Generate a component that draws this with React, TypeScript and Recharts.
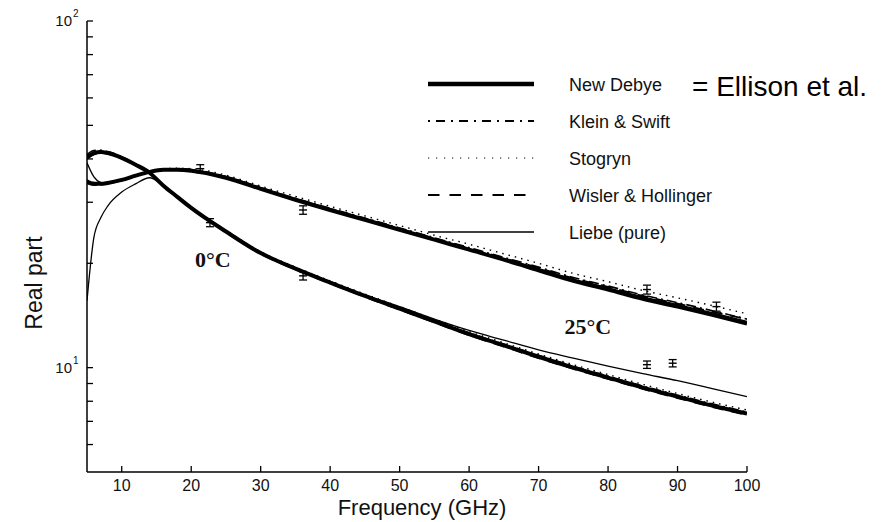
import {
  ComposedChart,
  Line,
  XAxis,
  YAxis,
  Scatter,
  ErrorBar,
  Legend,
  ReferenceDot,
} from "recharts";

const FONT = '"Liberation Sans", Arial, Helvetica, sans-serif';
const SERIF = '"Liberation Serif", "Times New Roman", serif';

// frequency grid (GHz)
const freqs = [5, 6, 7, 8, 10, 12, 14, 16, 18, 20, 25, 30, 35, 40, 45, 50, 55, 60, 65, 70, 75, 80, 85, 90, 95, 100];

// 0°C family
const newDebye0 = [40.5, 41.6, 41.9, 41.6, 40.3, 38.5, 36.5, 33.5, 31.1, 28.9, 24.7, 21.4, 19.3, 17.6, 16.1, 14.8, 13.6, 12.5, 11.6, 10.75, 10.0, 9.36, 8.76, 8.25, 7.77, 7.37];
const kleinSwift0 = [41.2, 42.3, 42.4, 42.0, 40.6, 38.7, 36.6, 33.6, 31.2, 29.0, 24.8, 21.5, 19.4, 17.7, 16.2, 14.9, 13.7, 12.6, 11.7, 10.85, 10.1, 9.45, 8.85, 8.33, 7.86, 7.45];
const stogryn0 = [40.9, 42.0, 42.2, 41.8, 40.4, 38.6, 36.6, 33.6, 31.2, 29.0, 24.9, 21.6, 19.5, 17.8, 16.3, 15.0, 13.8, 12.7, 11.8, 10.95, 10.2, 9.55, 8.95, 8.42, 7.95, 7.55];
const wisler0 = [40.0, 41.2, 41.6, 41.4, 40.2, 38.4, 36.4, 33.4, 31.0, 28.8, 24.6, 21.3, 19.2, 17.5, 16.0, 14.7, 13.5, 12.4, 11.5, 10.65, 9.92, 9.28, 8.68, 8.17, 7.7, 7.3];
const liebe0 = [15.6, 23.8, 27.1, 29.3, 32.1, 33.9, 35.3, 33.5, 31.1, 29.0, 24.8, 21.5, 19.4, 17.7, 16.2, 15.0, 13.8, 12.8, 12.0, 11.25, 10.65, 10.1, 9.61, 9.17, 8.7, 8.25];

// 25°C family
const newDebye25 = [34.4, 33.9, 33.9, 34.1, 34.8, 35.8, 36.7, 37.2, 37.2, 37.0, 35.3, 32.8, 30.5, 28.5, 26.7, 25.0, 23.4, 21.9, 20.5, 19.1, 17.8, 16.8, 15.8, 15.0, 14.2, 13.4];
const kleinSwift25 = [34.0, 33.6, 33.7, 34.0, 34.8, 35.9, 36.8, 37.4, 37.5, 37.3, 35.6, 33.1, 30.8, 28.8, 27.0, 25.3, 23.7, 22.2, 20.8, 19.5, 18.2, 17.2, 16.2, 15.4, 14.6, 13.8];
const stogryn25 = [34.8, 34.2, 34.1, 34.3, 35.0, 36.0, 36.9, 37.5, 37.6, 37.5, 35.9, 33.4, 31.2, 29.2, 27.4, 25.7, 24.1, 22.7, 21.3, 20.0, 18.7, 17.7, 16.7, 15.9, 15.1, 14.3];
const wisler25 = [34.2, 33.8, 33.8, 34.1, 34.8, 35.8, 36.8, 37.3, 37.4, 37.2, 35.5, 33.0, 30.7, 28.7, 26.9, 25.2, 23.6, 22.1, 20.7, 19.4, 18.1, 17.1, 16.1, 15.3, 14.5, 13.8];
const liebe25 = [39.0, 35.5, 34.2, 34.0, 34.6, 35.6, 36.6, 37.1, 37.1, 36.9, 35.2, 32.7, 30.4, 28.5, 26.7, 25.0, 23.4, 22.0, 20.6, 19.3, 18.0, 17.0, 16.0, 15.2, 14.4, 13.6];

// measurements with error bars
const expFreq0 = [22.7, 36.1, 85.6, 89.3];
const expVal0 = [26.2, 18.4, 10.2, 10.3];
const expErr0 = [0.7, 0.5, 0.25, 0.25];
const expFreq25 = [21.3, 36.1, 85.6, 95.6];
const expVal25 = [37.5, 28.5, 16.8, 15.0];
const expErr25 = [1.0, 0.8, 0.5, 0.45];

const xTicks = [10, 20, 30, 40, 50, 60, 70, 80, 90, 100];
const yTicks = [6, 7, 8, 9, 10, 20, 30, 40, 50, 60, 70, 80, 90, 100];

const models = [
  { key: "nd", name: "New Debye", width: 4, dash: undefined, legendWidth: 4.5, legendDash: undefined },
  { key: "ks", name: "Klein & Swift", width: 1.6, dash: "10 4 2 4", legendWidth: 1.8, legendDash: "2 6 9 6" },
  { key: "st", name: "Stogryn", width: 1.4, dash: "1.5 5", legendWidth: 1.2, legendDash: "1.2 6.8" },
  { key: "wh", name: "Wisler & Hollinger", width: 1.8, dash: "11 8", legendWidth: 2, legendDash: "11.5 10" },
  { key: "lb", name: "Liebe (pure)", width: 1.3, dash: undefined, legendWidth: 1.6, legendDash: undefined },
];

const data = freqs.map((f, i) => ({
  f,
  nd0: newDebye0[i],
  ks0: kleinSwift0[i],
  st0: stogryn0[i],
  wh0: wisler0[i],
  lb0: liebe0[i],
  nd25: newDebye25[i],
  ks25: kleinSwift25[i],
  st25: stogryn25[i],
  wh25: wisler25[i],
  lb25: liebe25[i],
}));

const exp0 = expFreq0.map((f, i) => ({ f, v: expVal0[i], err: expErr0[i] }));
const exp25 = expFreq25.map((f, i) => ({ f, v: expVal25[i], err: expErr25[i] }));

const YTick = (props: any) => {
  const { x, y, payload } = props;
  if (payload.value !== 10 && payload.value !== 100) return <g />;
  const exp = payload.value === 10 ? "1" : "2";
  return (
    <g fontFamily={FONT} fill="#111">
      <text x={x} y={y} dy="0.35em" textAnchor="end" fontSize={15}>
        10
      </text>
      <text x={x + 1} y={y - 4} textAnchor="start" fontSize={10}>
        {exp}
      </text>
    </g>
  );
};

const XTitle = (props: any) => {
  const vb = props.viewBox || { x: 87, y: 472, width: 660 };
  return (
    <text x={vb.x + vb.width / 2 + 5} y={vb.y + 43} textAnchor="middle" fontSize={22} fontFamily={FONT} fill="#111">
      Frequency (GHz)
    </text>
  );
};

const YTitle = () => (
  <text x={42} y={283} transform="rotate(-90 42 283)" textAnchor="middle" fontSize={23} fontFamily={FONT} fill="#111">
    Real part
  </text>
);

const Marker = (p: any) => (
  <line x1={p.cx - 4} x2={p.cx + 4} y1={p.cy} y2={p.cy} stroke="#000" strokeWidth={1.4} />
);

const ModelLegend = () => (
  <div style={{ position: "relative", width: 884, height: 0, fontFamily: FONT, color: "#111" }}>
    {models.map((m, i) => {
      const cy = 84 + i * 37;
      return (
        <div key={m.key}>
          <svg style={{ position: "absolute", left: 426, top: cy - 5 }} width={110} height={10}>
            <line x1={2} y1={5} x2={108} y2={5} stroke="#000" strokeWidth={m.legendWidth} strokeDasharray={m.legendDash} />
          </svg>
          <span style={{ position: "absolute", left: 569, top: cy - 10, fontSize: 18, lineHeight: "22px", whiteSpace: "nowrap" }}>
            {m.name}
          </span>
        </div>
      );
    })}
    <div style={{ position: "absolute", left: 684, top: 57, width: 200, height: 55, background: "#fff" }} />
    <span style={{ position: "absolute", left: 692, top: 71, fontSize: 28, lineHeight: "32px", whiteSpace: "nowrap", color: "#000" }}>
      = Ellison et al.
    </span>
  </div>
);

export default function App() {
  const axisLine = { stroke: "#000", strokeWidth: 1.5 };
  const tickLine = { stroke: "#000", strokeWidth: 1.3 };
  return (
    <div style={{ position: "absolute", left: 0, top: 0, background: "#fff" }}>
      <ComposedChart width={884} height={522} data={data} margin={{ top: 21, right: 137, bottom: 10, left: 27 }}>
        <XAxis
          dataKey="f"
          type="number"
          domain={[5, 100]}
          ticks={xTicks}
          interval={0}
          allowDataOverflow
          height={40}
          tickSize={-6}
          tickMargin={14}
          axisLine={axisLine}
          tickLine={tickLine}
          tick={{ fontSize: 16, fill: "#111", fontFamily: FONT }}
          label={<XTitle />}
        />
        <XAxis
          xAxisId="top"
          orientation="top"
          dataKey="f"
          type="number"
          domain={[5, 100]}
          ticks={xTicks}
          interval={0}
          allowDataOverflow
          height={0}
          tickSize={-6}
          axisLine={axisLine}
          tickLine={tickLine}
          tick={false}
        />
        <YAxis
          scale="log"
          domain={[5, 100]}
          ticks={yTicks}
          interval={0}
          allowDataOverflow
          width={60}
          tickSize={-6}
          tickMargin={21}
          axisLine={axisLine}
          tickLine={tickLine}
          tick={<YTick />}
          label={<YTitle />}
        />
        <YAxis
          yAxisId="right"
          orientation="right"
          scale="log"
          domain={[5, 100]}
          ticks={yTicks}
          interval={0}
          allowDataOverflow
          width={0}
          tickSize={-6}
          axisLine={axisLine}
          tickLine={tickLine}
          tick={false}
        />
        <Legend layout="horizontal" verticalAlign="middle" align="center" wrapperStyle={{ left: 0, top: 0, width: 884 }} content={<ModelLegend />} />

        {["0", "25"].map((t) =>
          models.map((m) => (
            <Line
              key={m.key + t}
              dataKey={m.key + t}
              name={m.name}
              type="monotone"
              stroke="#000"
              strokeWidth={m.width}
              strokeDasharray={m.dash}
              dot={false}
              activeDot={false}
              isAnimationActive={false}
            />
          ))
        )}

        <Scatter data={exp0} dataKey="v" shape={<Marker />} isAnimationActive={false}>
          <ErrorBar dataKey="err" direction="y" width={4} stroke="#000" strokeWidth={1.3} isAnimationActive={false} />
        </Scatter>
        <Scatter data={exp25} dataKey="v" shape={<Marker />} isAnimationActive={false}>
          <ErrorBar dataKey="err" direction="y" width={4} stroke="#000" strokeWidth={1.3} isAnimationActive={false} />
        </Scatter>

        <ReferenceDot
          x={23.1}
          y={20.5}
          r={1}
          fill="none"
          stroke="none"
          label={{ value: "0°C", position: "center", fontSize: 22, fontFamily: SERIF, fontWeight: "bold", fill: "#111" }}
        />
        <ReferenceDot
          x={77.1}
          y={13.2}
          r={1}
          fill="none"
          stroke="none"
          label={{ value: "25°C", position: "center", fontSize: 22, fontFamily: SERIF, fontWeight: "bold", fill: "#111" }}
        />
      </ComposedChart>
    </div>
  );
}
